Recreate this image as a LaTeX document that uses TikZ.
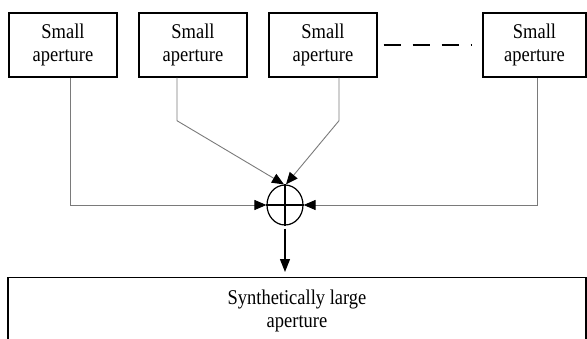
\documentclass[tikz,border=0pt]{standalone}
\usepackage{fontspec}
\setmainfont{Liberation Serif}[FakeStretch=0.88]
\usetikzlibrary{positioning,arrows.meta,shapes.geometric}
\definecolor{wire}{HTML}{7A7A7A}

\begin{document}
\begin{tikzpicture}[x=1pt,y=-1pt,
  apbox/.style={draw=black,line width=1.4pt,minimum height=64pt,inner sep=2pt,
                align=center,font=\fontsize{21}{23.5}\selectfont},
  feed/.style={draw=wire,line width=0.9pt,-{Triangle[length=12pt,width=10pt,color=black]}}]
\useasboundingbox (0,0) rectangle (587,338);

% the small apertures
\node[apbox,minimum width=108pt] (ap1) at (63,45) {Small\\aperture};
\node[apbox,minimum width=108pt] (ap2) at (193,45) {Small\\aperture};
\node[apbox,minimum width=108pt] (ap3) at (323,45) {Small\\aperture};
\node[apbox,minimum width=103pt] (ap4) at (534.5,45) {Small\\aperture};
\draw[line width=1.5pt,dash pattern=on 17pt off 12pt]
  ([xshift=6pt]ap3.east) -- ([xshift=-10pt]ap4.west);

% summing point
\node[draw,ellipse,line width=1.2pt,minimum width=36pt,minimum height=40pt,
      inner sep=0pt] (sum) at (285,205) {};
\draw[line width=1.2pt] (sum.north) -- (sum.south) (sum.west) -- (sum.east);

\draw[feed] ([xshift=7pt]ap1.south) |- (sum.west);
\draw[feed] ([xshift=-16pt]ap2.south) -- ++(0,43) -- ([xshift=-1pt]sum.north);
\draw[feed] ([xshift=16pt]ap3.south) -- ++(0,43) -- ([xshift=1pt]sum.north);
\draw[feed] ([xshift=2.5pt]ap4.south) |- (sum.east);

% result
\node[apbox,minimum width=578pt,minimum height=66pt,anchor=north] (out) at (297,277)
  {Synthetically large\\aperture};
\draw[line width=1.2pt,shorten <=3pt,shorten >=5pt,-{Triangle[length=13pt,width=10pt]}]
  (sum.south) -- (sum.south |- out.north);
\end{tikzpicture}
\end{document}
